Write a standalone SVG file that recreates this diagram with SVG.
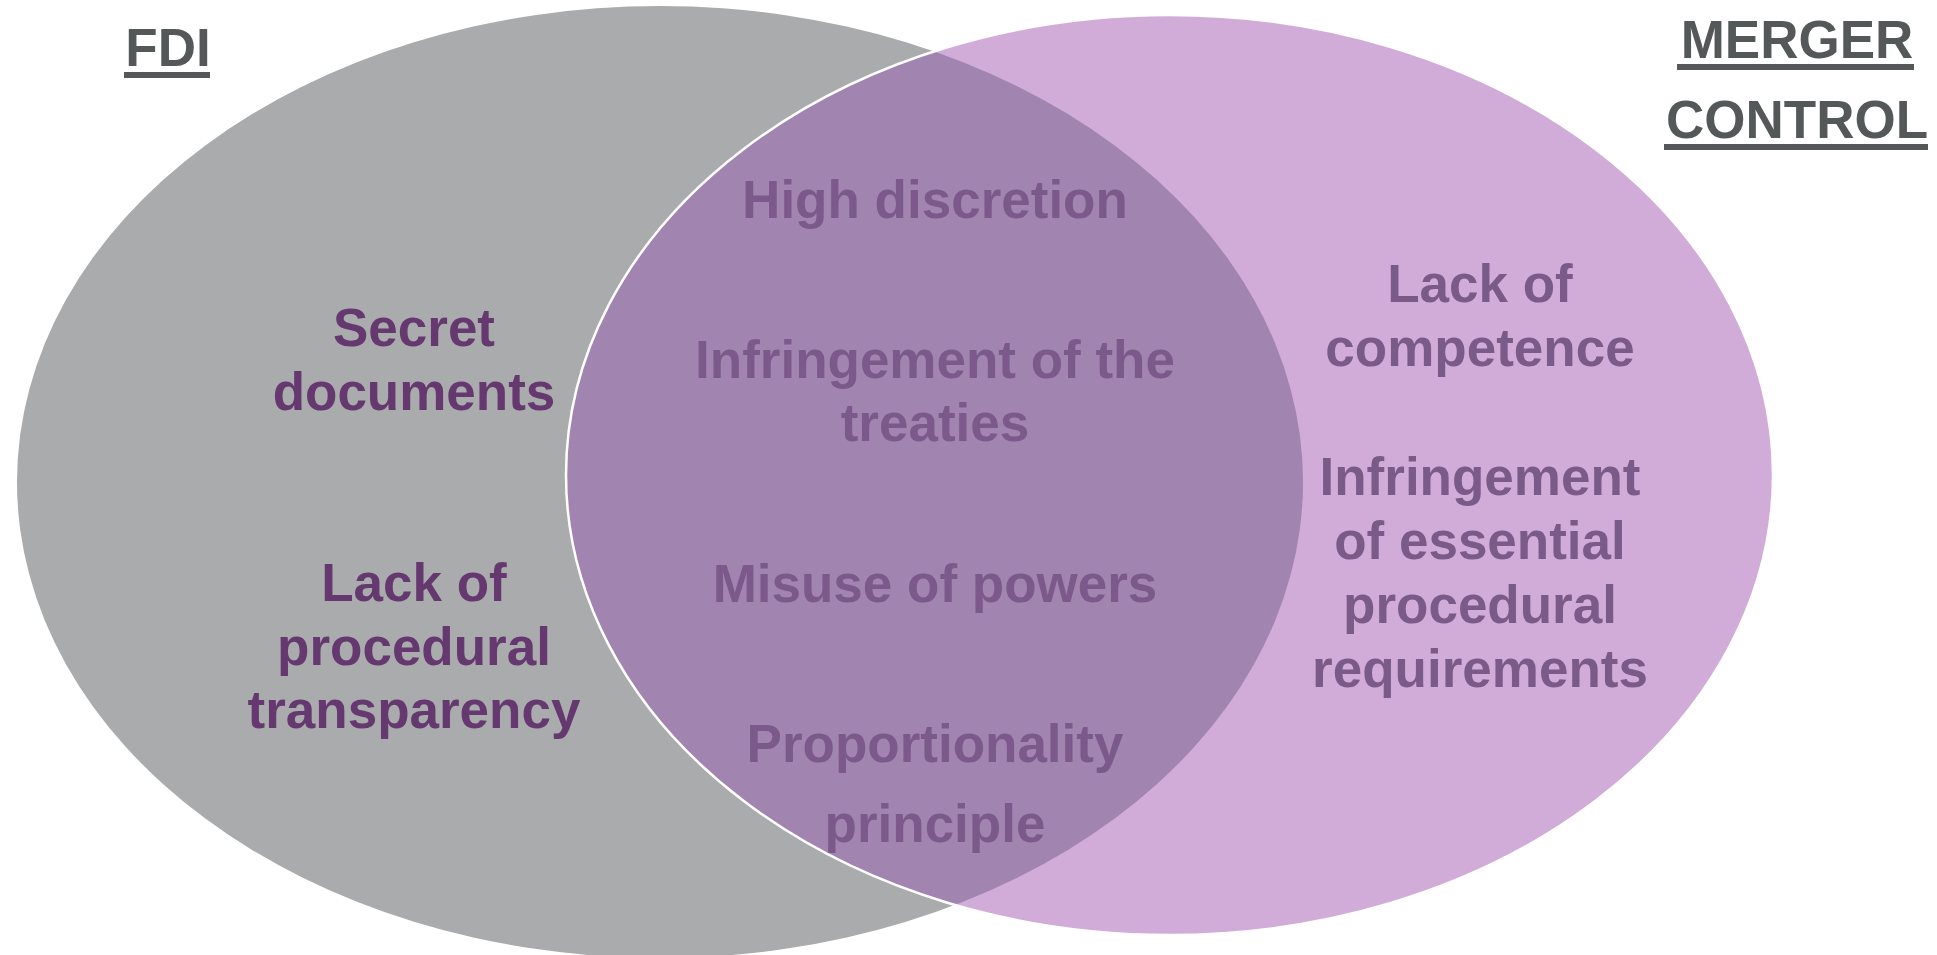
<svg xmlns="http://www.w3.org/2000/svg" width="1937" height="955" viewBox="0 0 1937 955">
  <style>
    .title { font-family: "Liberation Sans", Arial, sans-serif; font-weight: bold; font-size: 53px; fill: #545859; text-anchor: middle; }
    .body { font-family: "Liberation Sans", Arial, sans-serif; font-weight: bold; font-size: 53px; text-anchor: middle; }
    .fdi-text { fill: #65386f; }
    .mid-text { fill: #7b5a8b; }
    .mc-text { fill: #7a5a88; }
    .rule { fill: #545859; }
  </style>
  <defs>
    <ellipse id="fdiShape" cx="660" cy="482" rx="643" ry="476"/>
    <ellipse id="mcShape" cx="1169.5" cy="475" rx="603.5" ry="460"/>
    <clipPath id="fdiClip">
      <use href="#fdiShape"/>
    </clipPath>
  </defs>

  <rect width="1937" height="955" fill="#ffffff"/>

  <!-- FDI set -->
  <g id="set-fdi">
    <use href="#fdiShape" fill="#aaabad"/>
  </g>

  <!-- Merger control set -->
  <g id="set-merger">
    <use href="#mcShape" fill="#d1acd8"/>
  </g>

  <!-- Shared area of both sets -->
  <g id="overlap">
    <use href="#mcShape" fill="#a284b0" clip-path="url(#fdiClip)"/>
    <use href="#mcShape" fill="none" stroke="#ffffff" stroke-width="2.5"/>
  </g>

  <!-- Headings -->
  <g id="title-fdi">
    <text class="title" x="168" y="66">FDI</text>
    <rect class="rule" x="124" y="72" width="86" height="6"/>
  </g>
  <g id="title-merger">
    <text class="title" x="1797" y="58">MERGER</text>
    <rect class="rule" x="1677" y="64" width="237" height="6"/>
    <text class="title" x="1797" y="138">CONTROL</text>
    <rect class="rule" x="1664" y="144" width="264" height="6"/>
  </g>

  <!-- FDI-only issues -->
  <g id="fdi-items" class="body fdi-text">
    <text x="414" y="346">Secret</text>
    <text x="414" y="410">documents</text>
    <text x="414" y="601">Lack of</text>
    <text x="414" y="665">procedural</text>
    <text x="414" y="728">transparency</text>
  </g>

  <!-- Issues common to both -->
  <g id="shared-items" class="body mid-text">
    <text x="935" y="218">High discretion</text>
    <text x="935" y="378">Infringement of the</text>
    <text x="935" y="441">treaties</text>
    <text x="935" y="602">Misuse of powers</text>
    <text x="935" y="762">Proportionality</text>
    <text x="935" y="842">principle</text>
  </g>

  <!-- Merger-control-only issues -->
  <g id="merger-items" class="body mc-text">
    <text x="1480" y="302">Lack of</text>
    <text x="1480" y="366">competence</text>
    <text x="1480" y="495">Infringement</text>
    <text x="1480" y="559">of essential</text>
    <text x="1480" y="623">procedural</text>
    <text x="1480" y="687">requirements</text>
  </g>
</svg>
